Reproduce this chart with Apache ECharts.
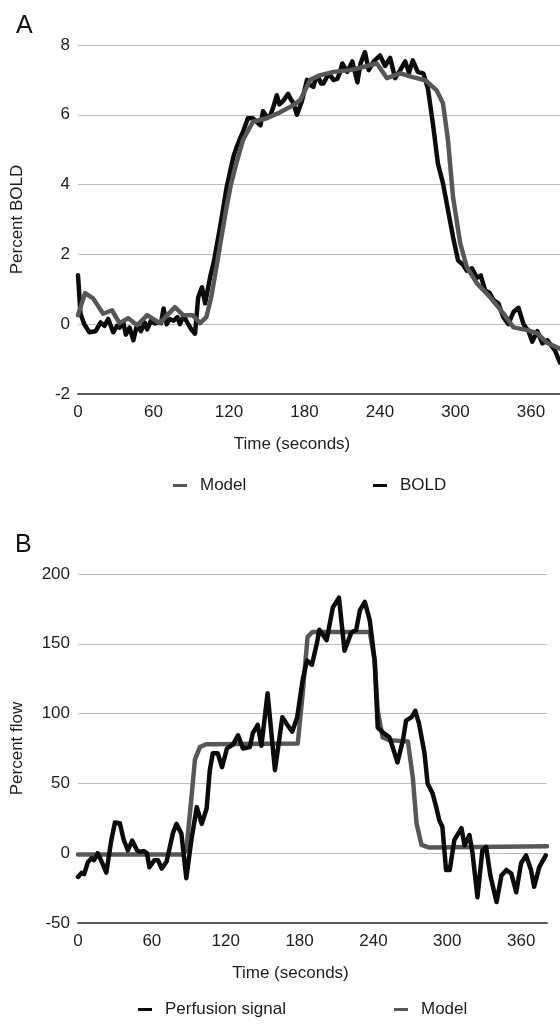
<!DOCTYPE html>
<html>
<head>
<meta charset="utf-8">
<title>BOLD and perfusion signals with model fits</title>
<script src="https://cdn.jsdelivr.net/npm/echarts@6/dist/echarts.min.js"></script>
<style>
  html, body { margin: 0; padding: 0; background: #fff; }
  #chart { width: 560px; height: 1029px; }
</style>
</head>
<body>
<div id="chart"></div>
<script>
// ---- panel A: percent BOLD ----
const boldTime = [0, 2, 5, 9, 14, 18, 21, 24, 28, 31, 33, 36, 38, 41, 44, 47, 50, 53, 55, 58,
  61, 64, 66, 68, 70.5, 73, 76, 79, 81, 84, 86, 90, 93, 95.5, 98.5, 101, 105, 108, 110.5, 113,
  115.5, 118, 121, 123.5, 126, 128.5, 131, 135, 139, 142, 145, 147, 150, 153, 155, 158, 160, 163, 167, 169,
  171, 174, 178, 182, 184.5, 187, 189, 191, 193, 195, 198, 200.5, 203, 206, 208, 210, 214, 218, 222, 224.5,
  228, 231, 235, 240, 244, 248, 252, 256, 260, 263, 266, 270, 274.5, 278, 282, 286, 290, 294, 298, 302,
  306, 309, 313, 317, 320, 323.5, 327, 330, 334, 338, 342, 346, 350, 354, 358, 361, 365, 369, 373, 377,
  379, 383]
const boldValue = [1.4, 0.3, 0.0, -0.23, -0.2, 0.05, -0.05, 0.15, -0.23, -0.05, -0.1, 0.05, -0.3, -0.1, -0.46, 0.0, -0.2, 0.05, -0.15, 0.1,
  0.02, 0.05, 0.03, 0.45, 0.0, 0.15, 0.1, 0.2, 0.0, 0.25, 0.1, -0.15, -0.27, 0.77, 1.06, 0.6, 1.35, 1.8, 2.3, 2.8,
  3.35, 3.9, 4.4, 4.8, 5.07, 5.3, 5.5, 5.9, 5.9, 5.8, 5.7, 6.1, 5.95, 6.0, 6.2, 6.56, 6.3, 6.4, 6.6, 6.45,
  6.35, 6.0, 6.4, 7.0, 6.85, 6.8, 7.05, 7.08, 6.9, 6.9, 7.1, 7.13, 7.0, 7.03, 7.2, 7.47, 7.23, 7.53, 6.93, 7.47,
  7.8, 7.28, 7.53, 7.7, 7.4, 7.63, 7.05, 7.28, 7.53, 7.2, 7.56, 7.23, 7.18, 6.76, 5.75, 4.6, 4.04, 3.27, 2.5, 1.83,
  1.7, 1.53, 1.6, 1.33, 1.4, 0.97, 0.9, 0.7, 0.6, 0.2, 0.0, 0.35, 0.47, 0.0, -0.2, -0.5, -0.2, -0.55, -0.46, -0.66,
  -0.75, -1.1]

const modelATime = [0, 5.6, 12, 20, 27, 33, 40, 47, 55, 65, 77, 83.5, 91, 97, 102, 106, 110.5, 114, 118, 121.5,
  125, 131, 139, 150, 160.5, 171, 176.5, 184.5, 192, 203, 216, 226.5, 237.5, 245.5, 256, 266, 276, 285, 290, 294,
  298, 303.7, 309, 317, 327.5, 338, 346, 357, 365, 373, 383]
const modelAValue = [0.26, 0.89, 0.74, 0.3, 0.4, 0.03, 0.17, -0.03, 0.26, 0.03, 0.49, 0.26, 0.26, 0.03, 0.2, 0.8, 1.74, 2.5, 3.35, 4.0,
  4.5, 5.27, 5.8, 5.9, 6.07, 6.27, 6.42, 7.0, 7.13, 7.23, 7.28, 7.37, 7.47, 7.05, 7.19, 7.08, 6.99, 6.7, 6.33, 5.27,
  3.64, 2.32, 1.63, 1.17, 0.77, 0.31, -0.09, -0.17, -0.26, -0.54, -0.7]

// ---- panel B: percent flow ----
const perfTime = [0, 3, 5, 8, 11, 13, 16, 18.7, 23, 27, 30, 34, 37, 40.5, 44, 48, 50, 53.5, 56, 58,
  62, 65, 68, 72, 77, 80, 84, 88, 92, 96.5, 100.5, 104.5, 107, 109.5, 113.5, 117, 121, 126, 130, 134,
  139.6, 142, 146, 149, 154, 160, 166, 170, 174, 178, 182.5, 186, 190, 194, 196, 202, 207, 212, 216.5, 222,
  226, 229, 233, 237, 241, 243.5, 247.5, 253, 256, 259.5, 264, 266.5, 271, 274, 277, 281.5, 284, 288, 291, 293.5,
  296, 299, 302, 305.7, 311.5, 314, 318, 320.5, 324.5, 328.5, 331.5, 335, 340, 344, 348, 352, 356, 360, 364, 368,
  370.6, 374.7, 380]
const perfValue = [-17, -14, -15, -6.5, -3.6, -5, 0, -5, -14, 9, 22, 21.5, 10, 2, 9, 2, 1, 1.5, 0, -10,
  -5, -5, -11, -6, 14, 21, 14, -18, 9, 33, 21, 32, 59, 71.6, 71.6, 61.6, 75, 78, 84.5, 75,
  76, 86, 92, 77, 114.6, 59.5, 97.4, 92, 87, 97, 124, 138, 135, 150, 160, 152.6, 176, 183, 145, 158,
  160, 174, 180, 167, 138, 90, 86.7, 83, 75, 65, 81, 95, 97.5, 102, 93, 71.6, 50, 43, 33, 23.6,
  19, -12, -12, 9.3, 18, 5.7, 13, 0, -31.5, 2, 4.5, -16, -35, -16, -12, -14.6, -28, -7, -1.6, -12,
  -24, -10, -1.6]

const modelBTime = [0, 85, 88, 92.5, 95, 99, 104, 178.5, 182.5, 186.5, 190.6, 237, 241, 243.5, 247.5, 253, 268, 272, 275, 279,
  285.5, 381]
const modelBValue = [-1, -1, 2, 43, 67, 76, 78, 78.5, 114, 155, 158.5, 158.5, 138, 102, 83, 81, 80, 54, 21.5, 6,
  4, 5]

// ---- axes ----
const timeTicks = [0, 60, 120, 180, 240, 300, 360]
const boldTicks = [-2, 0, 2, 4, 6, 8]
const flowTicks = [-50, 0, 50, 100, 150, 200]

const pairs = (xs, ys) => xs.map((x, i) => [x, ys[i]])

const FONT = "'Liberation Sans', Arial, Helvetica, sans-serif"
const INK = '#1e1e1e'
const BLACK = '#0b0b0b'
const GREY = '#575757'

const chart = echarts.init(document.getElementById('chart'), null, { renderer: 'canvas' })

const xAxisBase = (gridIndex, max, namePad) => ({
  gridIndex,
  type: 'value',
  min: 0,
  max,
  interval: 60,
  name: 'Time (seconds)',
  nameLocation: 'middle',
  nameGap: 42,
  nameTextStyle: { color: INK, fontSize: 17, fontFamily: FONT, padding: [0, namePad, 0, 0] },
  axisLine: { onZero: false, lineStyle: { color: '#5a5a5a', width: 2 } },
  axisTick: { show: false },
  splitLine: { show: false },
  axisLabel: {
    color: INK,
    fontSize: 17,
    fontFamily: FONT,
    margin: 10,
    showMaxLabel: false,
    formatter: v => (timeTicks.includes(v) ? String(v) : '')
  }
})

const yAxisBase = (gridIndex, ticks, name) => ({
  gridIndex,
  type: 'value',
  min: ticks[0],
  max: ticks[ticks.length - 1],
  interval: ticks[1] - ticks[0],
  name,
  nameLocation: 'middle',
  nameRotate: 90,
  nameGap: 52,
  nameTextStyle: { color: INK, fontSize: 17, fontFamily: FONT },
  axisLine: { show: false },
  axisTick: { show: false },
  splitLine: { lineStyle: { color: '#bdbdbd', width: 1.2 } },
  axisLabel: { color: INK, fontSize: 17, fontFamily: FONT, margin: 8 }
})

const legendItem = (name, left, top, color) => ({
  data: [{ name, itemStyle: { color } }],
  left,
  top,
  icon: 'rect',
  itemWidth: 14,
  itemHeight: 3,
  selectedMode: false,
  textStyle: { color: INK, fontSize: 17, fontFamily: FONT, padding: [0, 0, 0, 8] }
})

const lineSeries = (name, xi, data, color, z) => ({
  name,
  type: 'line',
  xAxisIndex: xi,
  yAxisIndex: xi,
  data,
  showSymbol: false,
  symbol: 'none',
  z,
  lineStyle: { color, width: 4.5, join: 'round', cap: 'round' },
  itemStyle: { color },
  emphasis: { disabled: true }
})

const option = {
  animation: false,
  title: [
    { text: 'A', left: 11, top: 9, textStyle: { fontSize: 25, fontWeight: 'normal', color: '#111', fontFamily: FONT } },
    { text: 'B', left: 10, top: 528, textStyle: { fontSize: 25, fontWeight: 'normal', color: '#111', fontFamily: FONT } }
  ],
  grid: [
    { left: 78, top: 45, width: 482, height: 349 },
    { left: 78, top: 574, width: 469, height: 349 }
  ],
  xAxis: [xAxisBase(0, 383, 54), xAxisBase(1, 381, 44)],
  yAxis: [yAxisBase(0, boldTicks, 'Percent BOLD'), yAxisBase(1, flowTicks, 'Percent flow')],
  legend: [
    legendItem('Model', 168, 472, GREY),
    legendItem('BOLD', 368, 472, BLACK),
    legendItem('Perfusion signal', 133, 996, BLACK),
    legendItem('Model ', 389, 996, GREY)
  ],
  series: [
    lineSeries('BOLD', 0, pairs(boldTime, boldValue), BLACK, 2),
    lineSeries('Model', 0, pairs(modelATime, modelAValue), GREY, 3),
    lineSeries('Model ', 1, pairs(modelBTime, modelBValue), GREY, 2),
    lineSeries('Perfusion signal', 1, pairs(perfTime, perfValue), BLACK, 3)
  ]
}

chart.setOption(option)
window.addEventListener('resize', () => chart.resize())
</script>
</body>
</html>
